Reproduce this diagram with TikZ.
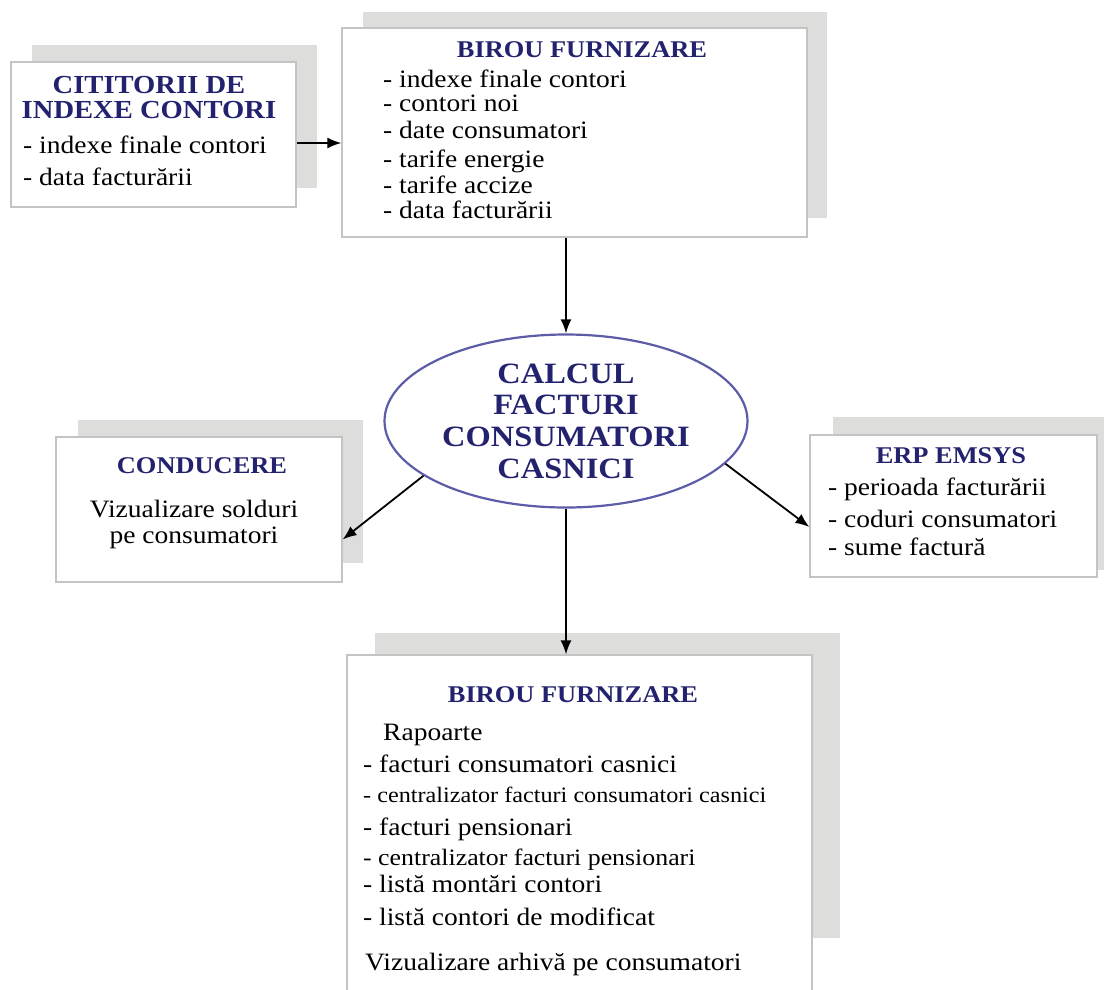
\documentclass[tikz,border=0pt]{standalone}
\usepackage{fontspec}
\setmainfont{Liberation Serif}[FakeStretch=1.1]
\usetikzlibrary{arrows.meta,shapes.geometric}
\definecolor{navy}{HTML}{23226E}
\definecolor{shadowgray}{HTML}{DDDDDB}
\definecolor{rim}{HTML}{C4C4C4}
\definecolor{ringblue}{HTML}{5C5CA8}
\newcommand{\fsz}[1]{\fontsize{#1}{#1}\selectfont}

\begin{document}
\begin{tikzpicture}[x=1pt,y=-1pt,
  panel/.style={draw=rim, line width=1.2pt, fill=white, rectangle, inner sep=0pt},
  backdrop/.style={fill=shadowgray, draw=none},
  ttl/.style={anchor=base, inner sep=0pt, text=navy, font=\fsz{24}\bfseries},
  itm/.style={anchor=base west, inner sep=0pt, font=\fsz{25}},
  ctr/.style={anchor=base, inner sep=0pt, font=\fsz{25}},
  flow/.style={line width=1.8pt, -{Latex[length=14pt,width=11pt]}}]

\useasboundingbox (0,0) rectangle (1104,989);
\clip (0,0) rectangle (1104,989);

% drop shadows behind the panels
\path[backdrop] (32,45) rectangle (317,188);
\path[backdrop] (363,12) rectangle (827,218);
\path[backdrop] (78,420) rectangle (363,563);
\path[backdrop] (833,417) rectangle (1104,570);
\path[backdrop] (375,633) rectangle (840,938);

% panels
\node[panel, minimum width=285pt, minimum height=145pt] (cit) at (153.5,134.5) {};
\node[panel, minimum width=465pt, minimum height=209pt] (b2) at (574.5,132.5) {};
\node[panel, minimum width=286pt, minimum height=145pt] (cond) at (199,509.5) {};
\node[panel, minimum width=287pt, minimum height=142pt] (erp) at (953.5,506) {};
\node[panel, minimum width=465pt, minimum height=345pt] (bot) at (579.5,827.5) {};

% central process
\node[ellipse, draw=ringblue, line width=2.2pt, fill=white, inner sep=0pt,
      minimum width=363pt, minimum height=173pt, align=center, text=navy,
      font=\fontsize{29.5}{31.7}\selectfont\bfseries] (calc) at (566,421)
      {CALCUL\\FACTURI\\CONSUMATORI\\CASNICI};

% meter readers
\node[ttl, font=\fsz{26}\bfseries] (citA) at (149,93) {CITITORII DE};
\node[ttl, font=\fsz{26}\bfseries] (citB) at (149,118) {INDEXE CONTORI};
\node[itm] (cit1) at (23,153) {- indexe finale contori};
\node[itm] (cit2) at (23,185) {- data facturării};

% supply office (input)
\node[ttl] (b2t) at (582,57) {BIROU FURNIZARE};
\foreach \y/\t [count=\i] in {87/{- indexe finale contori}, 111/{- contori noi},
    138/{- date consumatori}, 167/{- tarife energie}, 193/{- tarife accize},
    218/{- data facturării}}
  \node[itm] (b2l\i) at (383,\y) {\t};

% management
\node[ttl] (condt) at (202,473) {CONDUCERE};
\node[ctr] (cond1) at (194,517) {Vizualizare solduri};
\node[ctr] (cond2) at (194,543) {pe consumatori};

% ERP
\node[ttl] (erpt) at (951,463) {ERP EMSYS};
\node[itm] (erp1) at (828,495) {- perioada facturării};
\node[itm] (erp2) at (828,527) {- coduri consumatori};
\node[itm] (erp3) at (828,555) {- sume factură};

% supply office (reports)
\node[ttl] (bott) at (573,702) {BIROU FURNIZARE};
\node[itm] (bot0) at (383,740) {Rapoarte};
\node[itm] (bot1) at (363,772) {- facturi consumatori casnici};
\node[itm, font=\fsz{22}] (bot2) at (363,802) {- centralizator facturi consumatori casnici};
\node[itm] (bot3) at (363,835) {- facturi pensionari};
\node[itm, font=\fsz{23.5}] (bot4) at (363,865) {- centralizator facturi pensionari};
\node[itm] (bot5) at (363,892) {- listă montări contori};
\node[itm] (bot6) at (363,925) {- listă contori de modificat};
\node[itm] (bot7) at (365,970) {Vizualizare arhivă pe consumatori};

% connectors
\coordinate (citout) at ([yshift=-8.5pt]cit.east);
\draw[flow] (citout) -- (citout -| b2.west);
\draw[flow] (calc.north |- b2.south) -- (calc.north);
\draw[flow] (calc.201.6) -- ([yshift=-30pt]cond.east);
\draw[flow] (calc.345.5) -- ([yshift=-21pt]erp.west);
\draw[flow] (calc.south) -- (calc.south |- bot.north);
\end{tikzpicture}
\end{document}
